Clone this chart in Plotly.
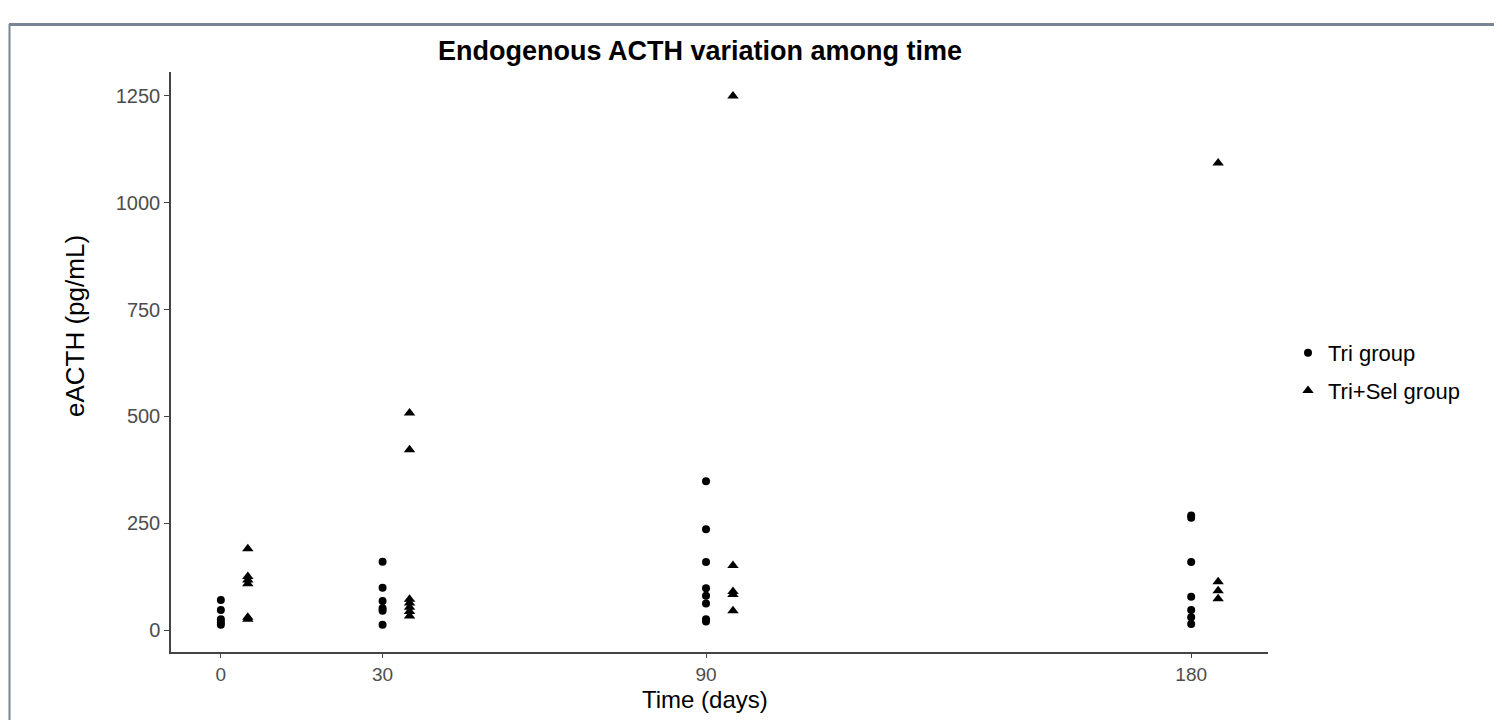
import plotly.graph_objects as go

# ---- data ----
days = [0, 30, 90, 180]
dodge = 5
tri_day0 = [70, 47, 25, 18, 12]
tri_day30 = [160, 99, 68, 51, 45, 12]
tri_day90 = [348, 236, 159, 98, 80, 62, 25, 20]
tri_day180 = [268, 263, 159, 78, 47, 30, 14]
trisel_day0 = [190, 125, 117, 108, 30, 25]
trisel_day30 = [508, 422, 72, 63, 53, 43, 33]
trisel_day90 = [1250, 151, 90, 83, 45]
trisel_day180 = [1093, 113, 92, 73]
tick_vals_y = [0, 250, 500, 750, 1000, 1250]

tri_groups = [tri_day0, tri_day30, tri_day90, tri_day180]
trisel_groups = [trisel_day0, trisel_day30, trisel_day90, trisel_day180]

tri_x, tri_y, ts_x, ts_y = [], [], [], []
for d, vals in zip(days, tri_groups):
    tri_x += [d] * len(vals)
    tri_y += vals
for d, vals in zip(days, trisel_groups):
    ts_x += [d + dodge] * len(vals)
    ts_y += vals

FONT = "Liberation Sans, Arial, sans-serif"

fig = go.Figure()
fig.add_trace(go.Scatter(x=tri_x, y=tri_y, mode="markers", name="Tri group", legendgroup="a",
                         marker=dict(symbol="circle", size=8, color="black")))
fig.add_trace(go.Scatter(x=ts_x, y=ts_y, mode="markers", name="Tri+Sel group", legendgroup="b",
                         marker=dict(symbol="triangle-up", size=10, color="black")))

OFF = 8  # page body margin
# target plot area in screen pixels: x 171..1268, y 72..652
L, R, T, B = 171 - OFF, 1268 - OFF, 72 - OFF, 652 - OFF
W, H = 1502 - OFF, 720 - OFF
pw, ph = R - L, B - T

def px(xs):
    return (xs - OFF - L) / pw

def py(ys):
    return (B - (ys - OFF)) / ph

fig.update_layout(
    width=W, height=H,
    margin=dict(l=L, r=W - R, t=T, b=H - B),
    paper_bgcolor="white", plot_bgcolor="white",
    font=dict(family=FONT, color="black"),
    title=dict(text="<b>Endogenous ACTH variation among time</b>",
               x=(700 - OFF) / W, xanchor="center", y=1 - (51 - OFF) / H, yanchor="middle",
               font=dict(size=27, color="black", family=FONT)),
    showlegend=True,
    legend=dict(x=px(1288), y=py(372), xanchor="left", yanchor="middle",
                font=dict(size=22, color="black"), bgcolor="rgba(0,0,0,0)",
                itemsizing="trace", tracegroupgap=6),
    xaxis=dict(range=[-9.25, 194.25], tickvals=days, ticktext=[str(d) for d in days],
               showgrid=False, zeroline=False, showline=True, linecolor="#444444",
               linewidth=1.5, ticks="outside", ticklen=4, tickcolor="#444444",
               tickfont=dict(size=19, color="#4d4d4d")),
    yaxis=dict(range=[-51.5, 1306], tickvals=tick_vals_y,
               ticktext=[str(v) for v in tick_vals_y],
               showgrid=False, zeroline=False, showline=True, linecolor="#444444",
               linewidth=1.5, ticks="outside", ticklen=5, tickcolor="#444444",
               tickfont=dict(size=20, color="#4d4d4d")),
    annotations=[
        dict(text="Time (days)", xref="paper", yref="paper", x=px(705), y=py(699),
             xanchor="center", yanchor="middle", showarrow=False,
             font=dict(size=24, color="black")),
        dict(text="eACTH (pg/mL)", xref="paper", yref="paper", x=px(75), y=py(326),
             xanchor="center", yanchor="middle", showarrow=False, textangle=-90,
             font=dict(size=26, color="black")),
    ],
    shapes=[
        dict(type="line", xref="paper", yref="paper", x0=px(9), x1=px(1520), y0=py(24.5), y1=py(24.5),
             line=dict(color="#778595", width=3)),
        dict(type="line", xref="paper", yref="paper", x0=px(9.5), x1=px(9.5), y0=py(24), y1=py(740),
             line=dict(color="#778595", width=2)),
    ],
)

fig.write_html("out.html")
